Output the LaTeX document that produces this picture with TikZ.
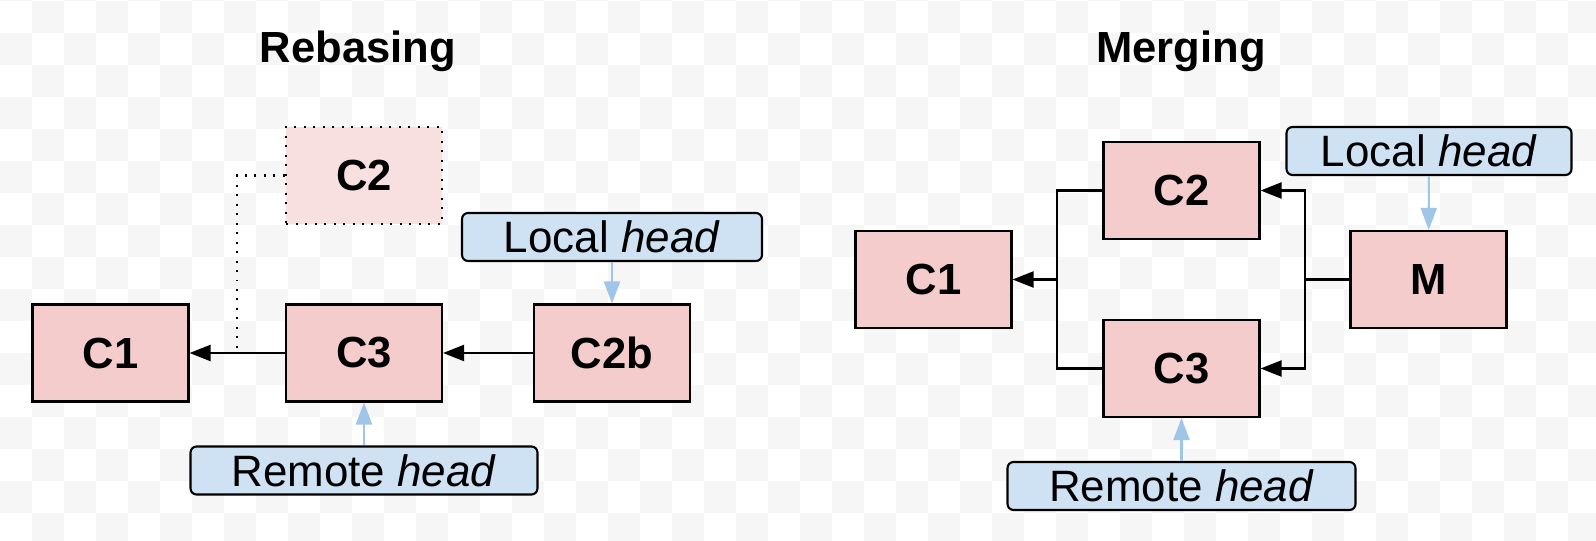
\documentclass[tikz,border=0pt]{standalone}
\usepackage{fontspec}
\setmainfont{Liberation Sans}
\usepackage{tikz}
\usetikzlibrary{arrows.meta}

\definecolor{commitpink}{HTML}{F4CCCC}
\definecolor{headblue}{HTML}{CFE2F3}
\definecolor{pointerblue}{HTML}{9FC5E8}
\definecolor{checkgrey}{HTML}{F6F6F6}

\begin{document}
\begin{tikzpicture}[x=0.02cm, y=-0.02cm,
    commit/.style={draw, line width=1.2pt, fill=commitpink, minimum width=3.12cm, minimum height=1.94cm, inner sep=0pt, font=\fontsize{24.8}{28}\selectfont\bfseries},
    ghost/.style={commit, fill=commitpink!60!white, dash pattern=on 0.04cm off 0.15cm},
    headbox/.style={draw, line width=1.2pt, fill=headblue, rounded corners=0.12cm, minimum height=0.96cm, inner sep=0pt, font=\fontsize{25}{28}\selectfont},
    title/.style={anchor=base, font=\fontsize{24.8}{28}\selectfont\bfseries},
    parent/.style={line width=1.2pt, -{Triangle[length=0.42cm, width=0.32cm]}},
    dots/.style={line width=1.2pt, dash pattern=on 0.04cm off 0.15cm},
    pointer/.style={line width=1.2pt, pointerblue, -{Triangle[length=0.44cm, width=0.32cm]}}]
    \useasboundingbox (0,0) rectangle (1596,541);

    % Checkered backdrop
    \fill[white] (0,0) rectangle (1596,541);
    \begin{scope}
        \clip (0,0) rectangle (1596,541);
        \foreach \i in {0,...,49} {
            \foreach \j in {-1,...,16} {
                \pgfmathtruncatemacro{\cellodd}{mod(\i+\j+2,2)}
                \ifnum\cellodd=1 \fill[checkgrey] (32*\i,1+32*\j) rectangle ++(32,32); \fi
            }
        }
    \end{scope}

    % Titles
    \node[title] (rtitle) at (358,62) {Rebasing};
    \node[title] (mtitle) at (1181,62) {Merging};

    % Rebasing
    \node[commit] (rC1) at (110.5,353) {C1};
    \node[commit] (rC3) at (364,353) {C3};
    \node[commit] (rC2b) at (612,353) {C2b};
    \node[ghost] (rC2) at (364,175.5) {C2};
    \node[headbox, minimum width=6.0cm] (rlocal) at (612,237) {Local \textit{head}};
    \node[headbox, minimum width=6.94cm] (rremote) at (364,470.5) {Remote \textit{head}};
    \coordinate (rfork) at (237,353);

    \draw[parent] (rC2b) -- (rC3);
    \draw[parent] (rC3) -- (rC1);
    \draw[dots] (rC2.west) -| (rfork);
    \draw[pointer] (rlocal) -- (rC2b);
    \draw[pointer] (rremote) -- (rC3);

    % Merging
    \node[commit] (mC1) at (933.5,279.5) {C1};
    \node[commit] (mC2) at (1181.5,190.5) {C2};
    \node[commit] (mC3) at (1181.5,368.5) {C3};
    \node[commit] (mM) at (1428.5,279.5) {M};
    \node[headbox, minimum width=5.7cm] (mlocal) at (1429,151) {Local \textit{head}};
    \node[headbox, minimum width=6.96cm] (mremote) at (1181.5,486) {Remote \textit{head}};
    \coordinate (mforkl) at (1057,279.5);
    \coordinate (mforkr) at (1305,279.5);

    \draw[line width=1.2pt] (mC2.west) -| (mforkl) |- (mC3.west);
    \draw[parent] (mforkl) -- (mC1);
    \draw[line width=1.2pt] (mM) -- (mforkr);
    \draw[parent] (mforkr) |- (mC2);
    \draw[parent] (mforkr) |- (mC3);
    \draw[pointer] (mlocal) -- (mM);
    \draw[pointer] (mremote) -- (mC3);
\end{tikzpicture}
\end{document}
